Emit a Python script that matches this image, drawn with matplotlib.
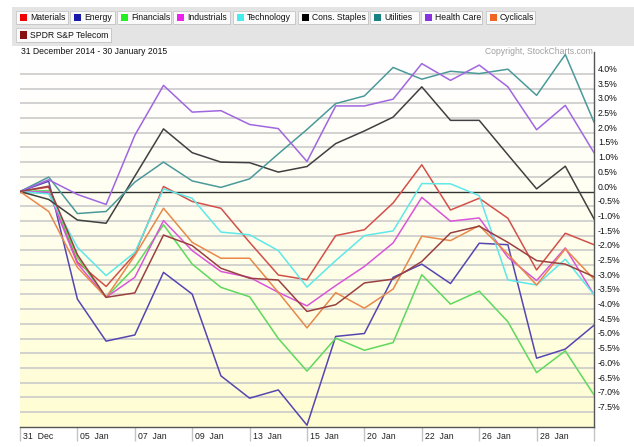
import numpy as np
import matplotlib
matplotlib.use("Agg")
import matplotlib.pyplot as plt
import matplotlib.transforms as mtransforms
from matplotlib.patches import Rectangle

plt.rcParams['font.family'] = ['Liberation Sans', 'DejaVu Sans']

# % change since 31 Dec 2014, one value per trading day
materials = [0, 0.15, -2.4, -3.23, -2.13, 0.17, -0.34, -0.57, -1.73, -2.84, -3.0,
             -1.5, -1.3, -0.39, 0.91, -0.63, -0.23, -0.91, -2.67, -1.42, -1.81]
energy = [0, 0.35, -3.66, -5.09, -4.88, -2.75, -3.49, -6.27, -7.03, -6.75, -7.95,
          -4.93, -4.83, -2.92, -2.47, -3.13, -1.76, -1.81, -5.67, -5.36, -4.55]
financials = [0, 0.03, -2.25, -3.6, -2.58, -1.13, -2.47, -3.26, -3.58, -5.0, -6.11,
              -4.99, -5.4, -5.14, -2.83, -3.83, -3.39, -4.43, -6.16, -5.42, -6.92]
industrials = [0, -0.02, -2.45, -3.6, -2.92, -0.99, -2.01, -2.72, -2.92, -3.43, -3.89,
               -3.2, -2.55, -1.75, -0.2, -1.01, -0.9, -2.24, -3.03, -1.92, -3.51]
technology = [0, -0.08, -1.9, -2.86, -2.07, 0.09, -0.23, -1.38, -1.47, -2.01, -3.25,
              -2.35, -1.5, -1.34, 0.27, 0.26, -0.14, -3.01, -3.18, -2.3, -3.51]
staples = [0, -0.27, -0.97, -1.08, 0.52, 2.13, 1.32, 1.0, 0.98, 0.66, 0.85,
           1.63, 2.06, 2.53, 3.56, 2.42, 2.42, 1.25, 0.09, 0.86, -0.93]
utilities = [0, 0.49, -0.75, -0.68, 0.32, 1.0, 0.36, 0.14, 0.43, 1.28, 2.11,
             2.99, 3.25, 4.22, 3.82, 4.09, 4.01, 4.16, 3.27, 4.66, 2.36]
health = [0, 0.40, -0.10, -0.44, 1.91, 3.61, 2.70, 2.75, 2.28, 2.14, 1.02,
          2.91, 2.91, 3.14, 4.35, 3.78, 4.30, 3.56, 2.10, 2.93, 1.32]
cyclicals = [0, -0.68, -2.58, -3.6, -2.18, -0.57, -1.73, -2.27, -2.27, -3.43, -4.64,
             -3.44, -3.97, -3.32, -1.52, -1.67, -1.16, -2.13, -3.18, -1.95, -2.98]
telecom = [0, 0.18, -2.15, -3.6, -3.45, -1.48, -1.84, -2.61, -2.95, -3.01, -4.08,
           -3.85, -3.11, -2.98, -2.38, -1.41, -1.18, -1.73, -2.35, -2.47, -2.9]

names = ['Materials', 'Energy', 'Financials', 'Industrials', 'Technology',
         'Cons. Staples', 'Utilities', 'Health Care', 'Cyclicals', 'SPDR S&P Telecom']
series = [materials, energy, financials, industrials, technology,
          staples, utilities, health, cyclicals, telecom]
line_colors = ['#d2504a', '#5546b0', '#5ed85e', '#d955d9', '#5ee8e8',
               '#404040', '#4a9a9a', '#a066e0', '#e8884a', '#9a4040']
key_colors = ['#ee0000', '#1a1aaa', '#22ee22', '#ee22ee', '#44eeee',
              '#000000', '#1a8080', '#8833dd', '#ee6622', '#881111']

tick_idx = [0, 2, 4, 6, 8, 10, 12, 14, 16, 18]
tick_labels = ['31  Dec', '05  Jan', '07  Jan', '09  Jan', '13  Jan',
               '15  Jan', '20  Jan', '22  Jan', '26  Jan', '28  Jan']
ylevels = np.arange(-7.5, 4.01, 0.5)

W, H = 634, 447
fig = plt.figure(figsize=(W / 100, H / 100), dpi=100)
fig.patch.set_facecolor('white')


def fx(x):
    return x / W


def fy(y):
    return 1 - y / H


ymin, ymax = -8.0, 4.75
ax = fig.add_axes([fx(20), fy(426.7), fx(594) - fx(20), fy(51.85) - fy(426.7)])
ax.set_xlim(0, 20)
ax.set_ylim(ymin, ymax)

# white-to-pale-yellow background
grad = np.linspace(0, 1, 256)[:, None]
top = np.array([1.0, 1.0, 1.0])
bot = np.array([1.0, 0.995, 0.82])
img = top + (bot - top) * grad[..., None] ** 1.3
ax.imshow(img, extent=[0, 20, ymin, ymax], aspect='auto', origin='upper', zorder=0)

for v in ylevels:
    if abs(v) < 1e-9:
        continue
    ax.axhline(v, color='#cbcbcb', lw=1.2, zorder=1)
ax.axhline(0, color='#333333', lw=1.0, zorder=2)

x = np.arange(len(materials))
for s, c in zip(series, line_colors):
    ax.plot(x, s, color=c, lw=1.1, zorder=3)

for side in ['top', 'left']:
    ax.spines[side].set_visible(False)
for side in ['right', 'bottom']:
    ax.spines[side].set_color('#555555')
    ax.spines[side].set_linewidth(1.0)

ax.set_yticks([])
ax.set_xticks(tick_idx + [20])
ax.set_xticklabels([])
ax.tick_params(axis='x', length=10, width=1.0, color='#c4c4c4', direction='out')

trans_x = mtransforms.offset_copy(ax.transData, fig=fig, x=3, y=-9.5, units='dots')
for i, lab in zip(tick_idx, tick_labels):
    ax.text(i, ymin, lab, transform=trans_x, ha='left', va='center',
            fontsize=6.3, color='#222222', clip_on=False)

trans_y = mtransforms.offset_copy(
    mtransforms.blended_transform_factory(ax.transAxes, ax.transData),
    fig=fig, x=4, y=4.5, units='dots')
for v in ylevels:
    ax.text(1.0, v, f'{v:.1f}%', transform=trans_y, ha='left', va='center',
            fontsize=6.3, color='#111111', clip_on=False)

# header bar with legend buttons
fig.patches.append(Rectangle((fx(12), fy(46)), fx(634) - fx(12), fy(7) - fy(46),
                             transform=fig.transFigure, facecolor='#e4e4e4',
                             edgecolor='none', zorder=0))
buttons = [(16, 68, 11, 24), (70, 115, 11, 24), (117, 171, 11, 24), (173, 230, 11, 24),
           (233, 295, 11, 24), (298, 368, 11, 24), (370, 419, 11, 24), (421, 482, 11, 24),
           (486, 535, 11, 24), (16, 111, 28, 42)]
for (x0, x1, y0, y1), name, kc in zip(buttons, names, key_colors):
    fig.patches.append(Rectangle((fx(x0 + 1), fy(y1 + 1)), fx(x1 - x0), fy(y0) - fy(y1),
                                 transform=fig.transFigure, facecolor='#9a9a9a',
                                 edgecolor='none', zorder=1))
    fig.patches.append(Rectangle((fx(x0), fy(y1)), fx(x1 - x0), fy(y0) - fy(y1),
                                 transform=fig.transFigure, facecolor='#fafafa',
                                 edgecolor='#c8c8c8', lw=0.6, zorder=2))
    ym = (y0 + y1) / 2
    fig.patches.append(Rectangle((fx(x0 + 4), fy(ym + 3.5)), fx(7), fy(0) - fy(7),
                                 transform=fig.transFigure, facecolor=kc,
                                 edgecolor='none', zorder=3))
    fig.text(fx(x0 + 14), fy(ym), name, ha='left', va='center', fontsize=6.2,
             color='#111111', zorder=4)

fig.text(fx(21), fy(52), '31 December 2014 - 30 January 2015', ha='left',
         va='center', fontsize=6.2, color='#111111')
fig.text(fx(593), fy(52), 'Copyright, StockCharts.com', ha='right',
         va='center', fontsize=6.2, color='#a0a0a0')

fig.savefig('out.png', dpi=100)
